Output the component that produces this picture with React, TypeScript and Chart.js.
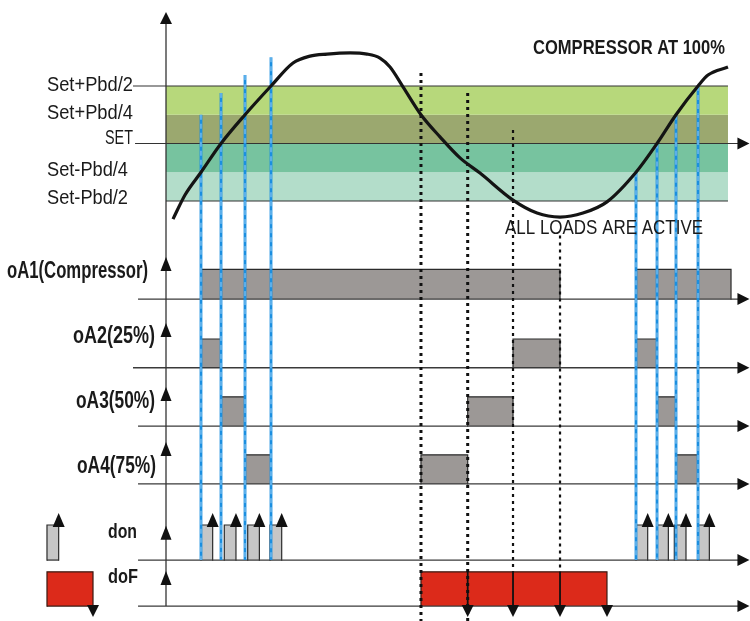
import React, { useEffect, useRef } from 'react';
import { Chart, registerables } from 'chart.js';

Chart.register(...registerables);

// ---------------- DATA ----------------
// Time axis: 0..100 time units. Temperature axis in Pbd/4 steps, SET = 0.
const curveTime = [1.2, 3.25, 5.99, 9.42, 13.53, 17.98, 21.75, 24.66, 27.57, 31.51, 34.42, 36.64, 38.36, 40.58, 43.66, 46.92, 50.34, 53.77, 59.42, 63.53, 67.47, 71.4, 75.51, 80.48, 84.08, 87.33, 91.1, 92.81, 96.23];
const curveTemp = [-2.63, -1.79, -1.0, 0, 1.0, 2.0, 2.8, 3.04, 3.11, 3.15, 3.11, 2.97, 2.66, 1.97, 1.0, 0.23, -0.5, -1.03, -1.97, -2.42, -2.56, -2.42, -2.03, -1.0, 0, 1.0, 2.0, 2.38, 2.66];

const bandLevels = [2, 1, 0, -1, -2];
const bandLabels = ['Set+Pbd/2', 'Set+Pbd/4', 'SET', 'Set-Pbd/4', 'Set-Pbd/2'];

const rowLabels = ['oA1(Compressor)', 'oA2(25%)', 'oA3(50%)', 'oA4(75%)', 'don', 'doF'];

const oA1On = [5.99, 80.48];
const oA1Off = [67.47, 96.75];
const oA2On = [5.99, 59.42, 80.48];
const oA2Off = [9.42, 67.47, 84.08];
const oA3On = [9.42, 51.66, 84.08];
const oA3Off = [13.53, 59.42, 87.33];
const oA4On = [13.53, 43.66, 87.33];
const oA4Off = [17.98, 51.66, 91.1];

const donStart = [5.99, 9.98, 13.99, 17.81, 80.48, 84.02, 87.04, 91.04];
const donDuration = 2.0;
const doFOn = [43.66];
const doFOff = [75.51];
const doFSteps = [51.66, 59.42, 67.47, 75.51];

// step-up thresholds (blue) and step-down thresholds (dotted)
const stepUpTime = [5.99, 9.42, 13.53, 17.98, 80.48, 84.08, 87.33, 91.1];
const stepUpTop = [1.0, 1.76, 2.38, 3.0, -1.0, 0, 1.0, 2.0];
const stepDownTime = [43.66, 51.66, 59.42, 67.47];
const stepDownTop = [2.45, 1.76, 0.47, -3.2];

// ---------------- LAYOUT / STYLE ----------------
const X_MIN = -28.425;
const X_MAX = 100;
const Y_MIN = -16.609;
const Y_MAX = 4.991;
const T_END = curveTime[curveTime.length - 1];
const ROW_BASE = [-5.41, -7.8, -9.83, -11.84, -14.49, -16.09];
const ROW_HIGH = [1.03, 1.0, 1.02, 1.01, 1.22, 1.19];
const ROW_START = [-4.79, -5.65, -4.79, -4.79, -4.79, -4.79];
const ROW_ARROW = [-3.95, -6.24, -8.47, -10.38, -13.3, -14.87];
const DON_TIP = -12.852;
const DOF_TIP = -16.47;
const LEGEND_T = -20.38;
const LEGEND_DOF_W = 7.88;
const DOTTED_TO_BOTTOM = [true, true, false, false];

const BAND_COLORS = ['#b7d87b', '#9ba86f', '#77c39f', '#b3ddca'];
const BAR_COLOR = '#9c9896';
const DON_COLOR = '#c6c6c6';
const DOF_COLOR = '#dc2a1a';
const BLUE = '#1b8fe0';
const INK = '#1a1a1a';
const FONT = '"Liberation Sans", Arial, sans-serif';

const TEXTS = [
  { text: bandLabels[0], t: LEGEND_T, v: 1.81, align: 'left', font: `20px ${FONT}`, fit: 86 },
  { text: bandLabels[1], t: LEGEND_T, v: 0.85, align: 'left', font: `20px ${FONT}`, fit: 86 },
  { text: bandLabels[2], t: -5.65, v: -0.02, align: 'right', font: `20px ${FONT}`, fit: 28 },
  { text: bandLabels[3], t: LEGEND_T, v: -1.13, align: 'left', font: `20px ${FONT}`, fit: 81 },
  { text: bandLabels[4], t: LEGEND_T, v: -2.09, align: 'left', font: `20px ${FONT}`, fit: 81 },
  { text: 'COMPRESSOR AT 100%', t: 62.84, v: 3.11, align: 'left', font: `bold 20px ${FONT}`, fit: 192 },
  { text: 'ALL LOADS ARE ACTIVE', t: 58.05, v: -3.165, align: 'left', font: `21px ${FONT}`, fit: 198 },
  { text: rowLabels[0], t: -3.08, v: -4.68, align: 'right', font: `bold 23px ${FONT}`, fit: 141 },
  { text: rowLabels[1], t: -1.88, v: -6.94, align: 'right', font: `bold 23px ${FONT}`, fit: 82 },
  { text: rowLabels[2], t: -1.88, v: -9.2, align: 'right', font: `bold 23px ${FONT}`, fit: 79 },
  { text: rowLabels[3], t: -1.71, v: -11.46, align: 'right', font: `bold 23px ${FONT}`, fit: 79 },
  { text: rowLabels[4], t: -9.93, v: -13.72, align: 'left', font: `bold 21px ${FONT}`, fit: 29 },
  { text: rowLabels[5], t: -9.93, v: -15.3, align: 'left', font: `bold 21px ${FONT}`, fit: 30 },
];

// ---------------- DATASET HELPERS ----------------
const seg = (pts: { x: number; y: number }[], color: string, width: number, order: number, dash: number[] = []) => ({
  type: 'line',
  data: pts,
  borderColor: color,
  borderWidth: width,
  borderDash: dash,
  borderCapStyle: 'butt',
  pointRadius: 0,
  fill: false,
  tension: 0,
  order,
});

// open rectangle outline (left, top, right) filled down to its bottom value
const rect = (t0: number, t1: number, v0: number, v1: number, fillColor: string, border: string, bw: number, order: number) => ({
  type: 'line',
  data: [
    { x: t0, y: v0 },
    { x: t0, y: v1 },
    { x: t1, y: v1 },
    { x: t1, y: v0 },
  ],
  fill: { value: v0 },
  backgroundColor: fillColor,
  borderColor: border,
  borderWidth: bw,
  borderJoinStyle: 'miter',
  borderCapStyle: 'square',
  pointRadius: 0,
  tension: 0,
  order,
});

function buildDatasets() {
  const ds: any[] = [];
  // bands
  for (let i = 0; i < 4; i++) {
    ds.push(rect(0, T_END, bandLevels[i + 1], bandLevels[i], BAND_COLORS[i], 'rgba(0,0,0,0)', 0, 100));
  }
  // reference lines
  ds.push(seg([{ x: -5.65, y: bandLevels[0] }, { x: T_END, y: bandLevels[0] }], '#333', 1.2, 90));
  ds.push(seg([{ x: -5.3, y: bandLevels[2] }, { x: 98.5, y: bandLevels[2] }], '#333', 1.2, 90));
  ds.push(seg([{ x: 0, y: bandLevels[4] }, { x: T_END, y: bandLevels[4] }], '#333', 1.2, 90));

  // output rows
  const rows = [
    [oA1On, oA1Off],
    [oA2On, oA2Off],
    [oA3On, oA3Off],
    [oA4On, oA4Off],
  ];
  rows.forEach(([on, off], r) => {
    on.forEach((t0, k) => {
      ds.push(rect(t0, off[k], ROW_BASE[r], ROW_BASE[r] + ROW_HIGH[r], BAR_COLOR, '#2b2b2b', 1.2, 60));
    });
  });
  // don pulses
  donStart.forEach((s) => {
    ds.push(rect(s, s + donDuration, ROW_BASE[4], ROW_BASE[4] + ROW_HIGH[4], DON_COLOR, '#2b2b2b', 1.2, 60));
  });
  // doF
  doFOn.forEach((t0, k) => {
    ds.push(rect(t0, doFOff[k], ROW_BASE[5], ROW_BASE[5] + ROW_HIGH[5], DOF_COLOR, '#3a1a12', 1.2, 60));
  });
  // legend icons
  ds.push(rect(LEGEND_T, LEGEND_T + donDuration, ROW_BASE[4], ROW_BASE[4] + ROW_HIGH[4], DON_COLOR, '#2b2b2b', 1.2, 60));
  ds.push(seg([{ x: LEGEND_T, y: ROW_BASE[4] }, { x: LEGEND_T + donDuration, y: ROW_BASE[4] }], '#2b2b2b', 1.2, 59));
  ds.push(rect(LEGEND_T, LEGEND_T + LEGEND_DOF_W, ROW_BASE[5], ROW_BASE[5] + ROW_HIGH[5], DOF_COLOR, '#3a1a12', 1.2, 60));
  ds.push(seg([{ x: LEGEND_T, y: ROW_BASE[5] }, { x: LEGEND_T + LEGEND_DOF_W, y: ROW_BASE[5] }], '#3a1a12', 1.2, 59));

  // row baselines
  ROW_BASE.forEach((b, r) => {
    ds.push(seg([{ x: ROW_START[r], y: b }, { x: 98.5, y: b }], '#3a3a3a', 1.3, 55));
  });

  // blue step-up lines
  stepUpTime.forEach((t, i) => {
    ds.push(seg([{ x: t, y: stepUpTop[i] }, { x: t, y: ROW_BASE[4] }], BLUE, 2.8, 42));
    ds.push(seg([{ x: t, y: stepUpTop[i] }, { x: t, y: ROW_BASE[4] }], 'rgba(220,240,255,0.75)', 0.9, 41, [5, 4]));
  });

  // dotted step-down lines
  stepDownTime.forEach((t, i) => {
    const bottom = DOTTED_TO_BOTTOM[i] ? Y_MIN : ROW_BASE[5] + ROW_HIGH[5];
    ds.push(seg([{ x: t, y: stepDownTop[i] }, { x: t, y: bottom }], '#111', i < 2 ? 3 : 2.2, 38, [3, 4]));
  });
  // doF arrow stems
  doFSteps.slice(0, -1).forEach((t) => {
    ds.push(seg([{ x: t, y: ROW_BASE[5] + ROW_HIGH[5] }, { x: t, y: ROW_BASE[5] }], '#111', 1.8, 37));
  });

  // main vertical axis
  ds.push(seg([{ x: 0, y: ROW_BASE[5] }, { x: 0, y: 4.3 }], '#333', 1.3, 30));

  // temperature curve
  ds.push({
    type: 'line',
    data: curveTime.map((t, i) => ({ x: t, y: curveTemp[i] })),
    borderColor: '#141414',
    borderWidth: 3.2,
    pointRadius: 0,
    fill: false,
    cubicInterpolationMode: 'monotone',
    order: 10,
  });
  return ds;
}

function arrowHead(ctx: CanvasRenderingContext2D, x: number, y: number, dir: string, len: number, w: number) {
  ctx.beginPath();
  if (dir === 'up') {
    ctx.moveTo(x, y);
    ctx.lineTo(x - w / 2, y + len);
    ctx.lineTo(x + w / 2, y + len);
  } else if (dir === 'down') {
    ctx.moveTo(x, y);
    ctx.lineTo(x - w / 2, y - len);
    ctx.lineTo(x + w / 2, y - len);
  } else {
    ctx.moveTo(x, y);
    ctx.lineTo(x - len, y - w / 2);
    ctx.lineTo(x - len, y + w / 2);
  }
  ctx.closePath();
  ctx.fill();
}

const decorPlugin = {
  id: 'decor',
  afterDatasetsDraw(chart: any) {
    const ctx: CanvasRenderingContext2D = chart.ctx;
    const X = (t: number) => chart.scales.x.getPixelForValue(t);
    const Y = (v: number) => chart.scales.y.getPixelForValue(v);
    ctx.save();
    ctx.fillStyle = '#111';
    // main axis arrows
    arrowHead(ctx, X(0), Y(4.574), 'up', 12, 12);
    ROW_ARROW.forEach((v) => arrowHead(ctx, X(0), Y(v), 'up', 14, 11));
    // right arrows
    arrowHead(ctx, X(99.9), Y(bandLevels[2]), 'right', 12, 12);
    ROW_BASE.forEach((b) => arrowHead(ctx, X(99.9), Y(b), 'right', 12, 12));
    // don arrows
    donStart.forEach((s) => arrowHead(ctx, X(s + donDuration), Y(DON_TIP), 'up', 14, 12));
    arrowHead(ctx, X(LEGEND_T + donDuration), Y(DON_TIP), 'up', 14, 12);
    // doF arrows
    doFSteps.forEach((t) => arrowHead(ctx, X(t), Y(DOF_TIP), 'down', 12, 12));
    arrowHead(ctx, X(LEGEND_T + LEGEND_DOF_W), Y(DOF_TIP), 'down', 12, 12);

    // texts
    ctx.fillStyle = INK;
    ctx.textBaseline = 'alphabetic';
    ctx.textAlign = 'left';
    TEXTS.forEach((tx) => {
      ctx.save();
      ctx.font = tx.font;
      const w = ctx.measureText(tx.text).width;
      const s = tx.fit / w;
      let x = X(tx.t);
      if (tx.align === 'right') x -= tx.fit;
      ctx.translate(x, Y(tx.v));
      ctx.scale(s, 1);
      ctx.fillText(tx.text, 0, 0);
      ctx.restore();
    });
    ctx.restore();
  },
};

export default function App() {
  const ref = useRef<HTMLCanvasElement>(null);
  useEffect(() => {
    document.body.style.margin = '0';
    const chart = new Chart(ref.current as HTMLCanvasElement, {
      type: 'line',
      data: { datasets: buildDatasets() as any },
      options: {
        animation: false,
        responsive: false,
        events: [],
        layout: { padding: 0, autoPadding: false },
        scales: {
          x: { type: 'linear', min: X_MIN, max: X_MAX, display: false, bounds: 'data' },
          y: { type: 'linear', min: Y_MIN, max: Y_MAX, display: false, bounds: 'data' },
        },
        plugins: {
          legend: { display: false },
          tooltip: { enabled: false },
          title: { display: false },
        },
      } as any,
      plugins: [decorPlugin],
    });
    return () => chart.destroy();
  }, []);
  return (
    <div style={{ width: 750, height: 621, background: '#fff' }}>
      <canvas ref={ref} width={750} height={621} style={{ display: 'block', width: 750, height: 621 }} />
    </div>
  );
}
